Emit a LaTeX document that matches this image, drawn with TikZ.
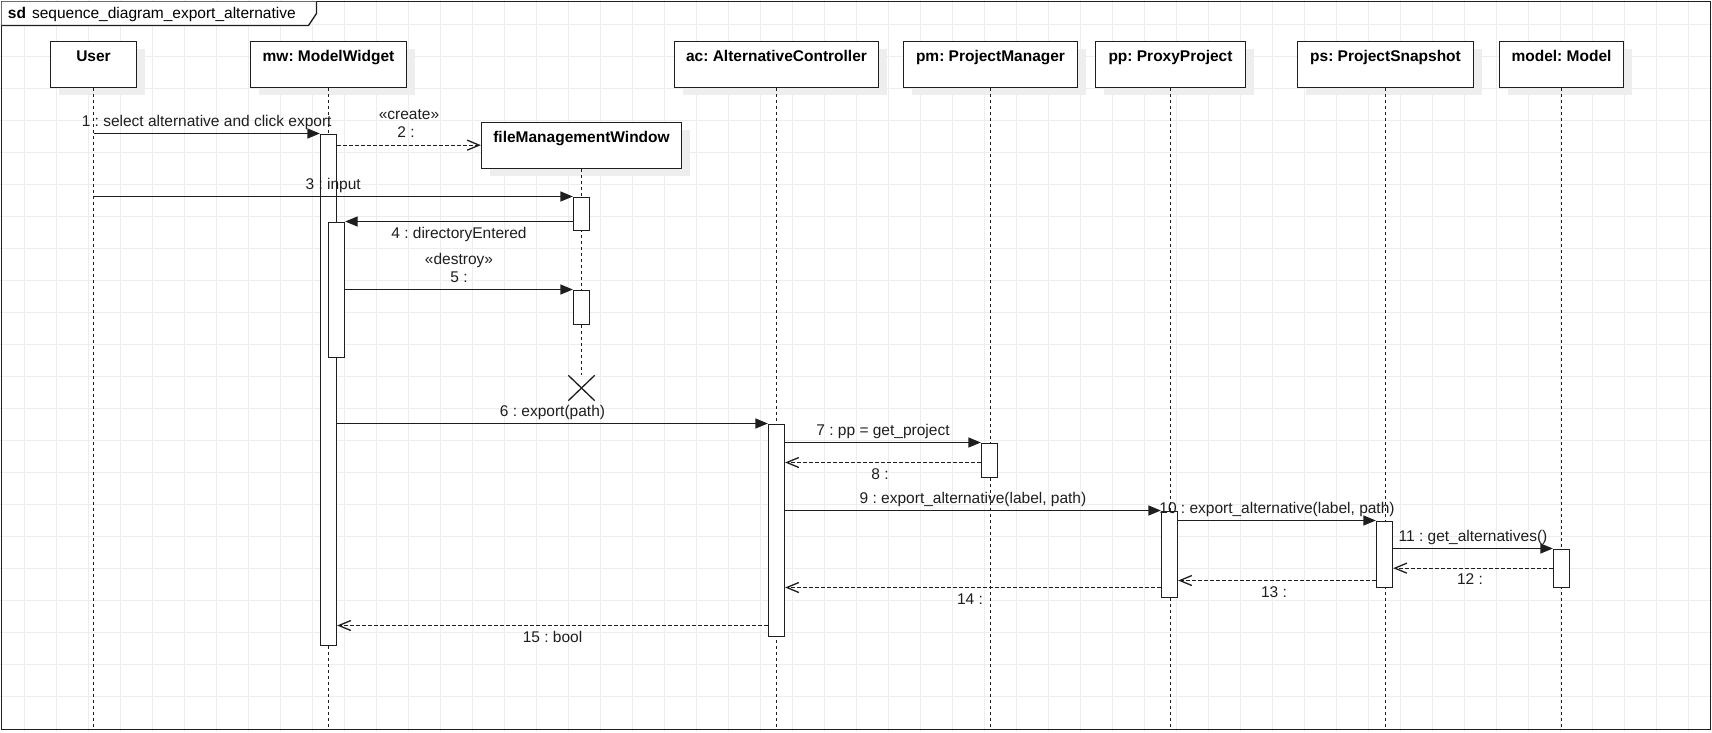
\documentclass[tikz,border=0pt]{standalone}
\usepackage{fontspec}
\setmainfont{Liberation Sans}
\frenchspacing
\usetikzlibrary{positioning,arrows.meta,shadows,shapes.misc}
\definecolor{cgrid}{HTML}{EDEDED}
\definecolor{cline}{HTML}{1E1E1E}
\definecolor{cshadow}{HTML}{EEEEEE}

\begin{document}
\begin{tikzpicture}[x=1pt,y=-1pt,line width=1.3pt,font=\fontsize{15.5}{18}\selectfont,
  head/.style={draw=cline,fill=white,anchor=north,inner xsep=0pt,inner ysep=9pt,
    text height=11pt,text depth=17pt,font=\fontsize{15.5}{18}\selectfont\bfseries,
    drop shadow={shadow xshift=8pt,shadow yshift=-8pt,fill=cshadow,draw=none,opacity=1},minimum width=#1},
  act/.style={draw=cline,fill=white,anchor=north,inner sep=0pt,minimum width=16pt,minimum height=#1},
  life/.style={cline,dash pattern=on 3.5pt off 2.5pt},
  call/.style={cline,-{Triangle[length=12.5pt,width=10pt]}},
  reply/.style={cline,dash pattern=on 3.5pt off 2.5pt,-{Straight Barb[length=12pt,width=10pt]}},
  lblup/.style={midway,anchor=base,inner sep=0pt,yshift=7.5pt},
  lbldn/.style={midway,anchor=base,inner sep=0pt,yshift=-16.5pt}]
\useasboundingbox (0,0) rectangle (1712,732);
% grid
\foreach \i in {0,...,52} \draw[cgrid,line width=1pt] (24.5+32*\i,0) -- (24.5+32*\i,732);
\foreach \i in {0,...,21} \draw[cgrid,line width=1pt] (0,24.5+32*\i) -- (1712,24.5+32*\i);
% frame and tab
\draw[cline] (1.5,1.5) rectangle (1710.5,729.5);
\fill[white] (1.5,1.5) -- (316.5,1.5) -- (316.5,13.5) -- (308.5,25.5) -- (1.5,25.5) -- cycle;
\draw[cline] (1.5,25.5) -- (308.5,25.5) -- (316.5,13.5) -- (316.5,1.5);
\node[anchor=base west,inner sep=0pt] (title) at (7.3,18.3) {\textbf{sd}\hspace{6pt}sequence\_diagram\_export\_alternative};
% lifeline heads
\node[head=86]  (user)  at (93.5,40.5)   {User};
\node[head=156] (mw)    at (328.5,40.5)  {mw: ModelWidget};
\node[head=204] (ac)    at (776.5,40.5)  {ac: AlternativeController};
\node[head=174] (pm)    at (990.5,40.5)  {pm: ProjectManager};
\node[head=150] (pp)    at (1170.5,40.5) {pp: ProxyProject};
\node[head=176] (ps)    at (1385.5,40.5) {ps: ProjectSnapshot};
\node[head=124] (model) at (1561.5,40.5) {model: Model};
\node[head=200] (fmw)   at (581.5,121.5) {fileManagementWindow};
% lifelines
\coordinate (bottom) at (0,729.5);
\foreach \n in {user,mw,ac,pm,pp,ps,model} \draw[life] (\n.south) -- (\n.south |- bottom);
\node[draw=cline,cross out,inner sep=0pt,minimum width=25pt,minimum height=24pt] (kill) at (581.5,388) {};
\draw[life] (fmw.south) -- (kill.north);
% activations
\node[act=511] (mwb1)  at (328.5,133.5)  {};
\node[act=135] (mwb2)  at (336.5,221.5)  {};
\node[act=33]  (fmwb1) at (581.5,196.5)  {};
\node[act=34]  (fmwb2) at (581.5,289.5)  {};
\node[act=212] (acb)   at (776.5,423.5)  {};
\node[act=34]  (pmb)   at (989.5,442.5)  {};
\node[act=86]  (ppb)   at (1169.5,510.5) {};
\node[act=66]  (psb)   at (1384.5,520.5) {};
\node[act=38]  (modb)  at (1561.5,548.5) {};
% return heights
\coordinate (r8) at (0,462.5);
\coordinate (r13) at (0,580.5);
\coordinate (r14) at (0,587.5);
\coordinate (r15) at (0,625.5);
% messages
\draw[call] (mwb1.north -| user.south) -- node[lblup]{1 : select alternative and click export} (mwb1.north west);
\draw[reply] (fmw.west -| mwb1.east) -- node[lblup,yshift=18pt]{«create»} node[lblup,xshift=-3pt]{2 :} (fmw.west);
\draw[call] (fmwb1.north -| user.south) -- node[lblup]{3 : input} (fmwb1.north west);
\draw[call] (mwb2.north -| fmwb1.west) -- node[lbldn]{4 : directoryEntered} (mwb2.north east);
\draw[call] (fmwb2.north -| mwb2.east) -- node[lblup,yshift=18pt]{«destroy»} node[lblup]{5 :} (fmwb2.north west);
\draw[call] (acb.north -| mwb1.east) -- node[lblup]{6 : export(path)} (acb.north west);
\draw[call] (pmb.north -| acb.east) -- node[lblup]{7 : pp = get\_project} (pmb.north west);
\draw[reply] (pmb.west |- r8) -- node[lbldn,xshift=-3pt]{8 :} (acb.east |- r8);
\draw[call] (ppb.north -| acb.east) -- node[lblup]{9 : export\_alternative(label, path)} (ppb.north west);
\draw[call] (psb.north -| ppb.east) -- node[lblup]{10 : export\_alternative(label, path)} (psb.north west);
\draw[call] (modb.north -| psb.east) -- node[lblup]{11 : get\_alternatives()} (modb.north west);
\draw[reply] (modb.west) -- node[lbldn,xshift=-3pt]{12 :} (modb.west -| psb.east);
\draw[reply] (psb.west |- r13) -- node[lbldn,xshift=-3pt]{13 :} (ppb.east |- r13);
\draw[reply] (ppb.west |- r14) -- node[lbldn,xshift=-3pt]{14 :} (acb.east |- r14);
\draw[reply] (acb.west |- r15) -- node[lbldn]{15 : bool} (mwb1.east |- r15);
\end{tikzpicture}
\end{document}
